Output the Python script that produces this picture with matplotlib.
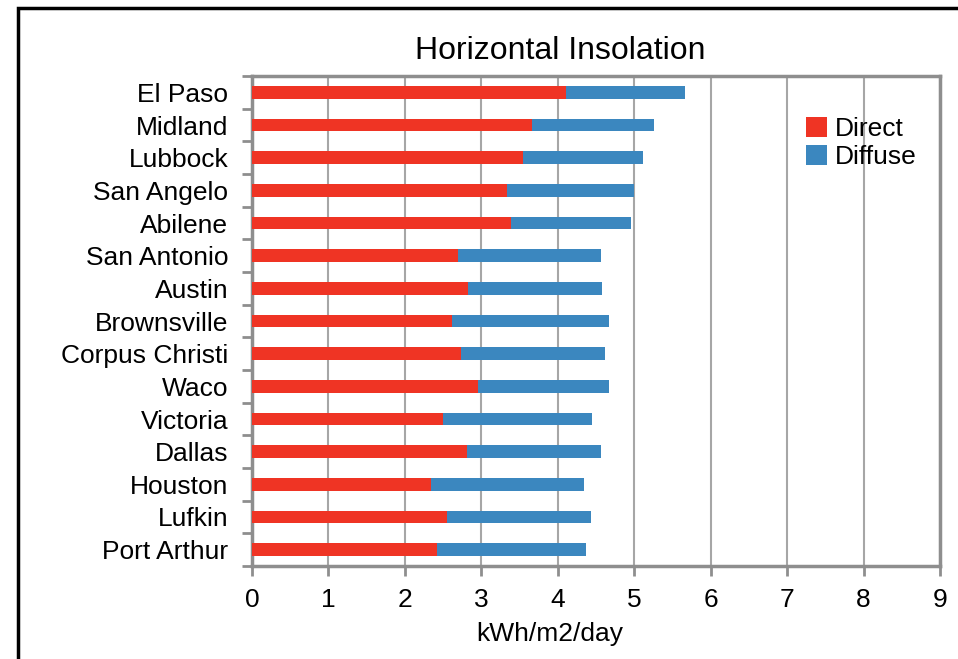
import numpy as np
import matplotlib
matplotlib.use("Agg")
import matplotlib.pyplot as plt
from matplotlib.patches import Rectangle

cities = ["El Paso", "Midland", "Lubbock", "San Angelo", "Abilene", "San Antonio",
          "Austin", "Brownsville", "Corpus Christi", "Waco", "Victoria", "Dallas",
          "Houston", "Lufkin", "Port Arthur"]
direct = [4.11, 3.66, 3.55, 3.34, 3.39, 2.69, 2.82, 2.61, 2.74, 2.95, 2.50, 2.81, 2.34, 2.55, 2.42]
total = [5.67, 5.26, 5.12, 5.00, 4.96, 4.57, 4.58, 4.67, 4.62, 4.67, 4.45, 4.57, 4.34, 4.44, 4.37]
diffuse = [t - d for t, d in zip(total, direct)]

RED = "#EF3424"
BLUE = "#3B87BF"
GRID = "#A6A6A6"
SPINE = "#8E8E8E"


def main():
    params = {"font.family": ["Liberation Sans", "DejaVu Sans"], "font.size": 19}
    matplotlib.rcParams.update(params)

    W, H = 958, 659
    fig = plt.figure(figsize=(W / 100, H / 100), dpi=100)
    ax = fig.add_axes([252 / W, 1 - 566 / H, (940 - 252) / W, (566 - 76) / H])

    y = np.arange(len(cities))
    ax.barh(y, direct, height=0.39, color=RED, label="Direct", zorder=3)
    ax.barh(y, diffuse, left=direct, height=0.39, color=BLUE, label="Diffuse", zorder=3)

    ax.set_xlim(0, 9)
    ax.set_ylim(len(cities) - 0.5, -0.5)
    ax.set_xticks(range(10))
    ax.set_yticks(y)
    ax.set_yticklabels(cities)
    ax.set_yticks(np.arange(-0.5, len(cities), 1.0), minor=True)
    ax.tick_params(axis="y", which="major", length=0, pad=17)
    ax.tick_params(axis="y", which="minor", length=7, width=2, color=SPINE, direction="out")
    ax.tick_params(axis="x", which="major", length=7, width=2, color=SPINE, direction="out", pad=9)

    ax.grid(axis="x", color=GRID, linewidth=1.5, zorder=0)
    for s in ax.spines.values():
        s.set_color(SPINE)
        s.set_linewidth(2.5)

    ax.set_xlabel("kWh/m2/day")
    ax.xaxis.set_label_coords((550 - 252) / (940 - 252), -(634 - 566) / (566 - 76))
    ax.xaxis.label.set_verticalalignment("center")

    fig.text(560 / W, 1 - 51 / H, "Horizontal Insolation", fontsize=23,
             ha="center", va="center")

    ax.legend(loc="upper left", bbox_to_anchor=((806 - 252) / (940 - 252), (566 - 117) / (566 - 76)),
              frameon=False, handlelength=0.8, handleheight=0.8, handletextpad=0.3,
              labelspacing=0.15, borderpad=0, borderaxespad=0, fontsize=19)

    fig.patches.append(Rectangle((18 / W, -0.1), 1.2, 1.1 - 8 / H, transform=fig.transFigure,
                                 fill=False, edgecolor="black", linewidth=2.5))

    fig.savefig("out.png", dpi=100)


if __name__ == "__main__":
    main()
